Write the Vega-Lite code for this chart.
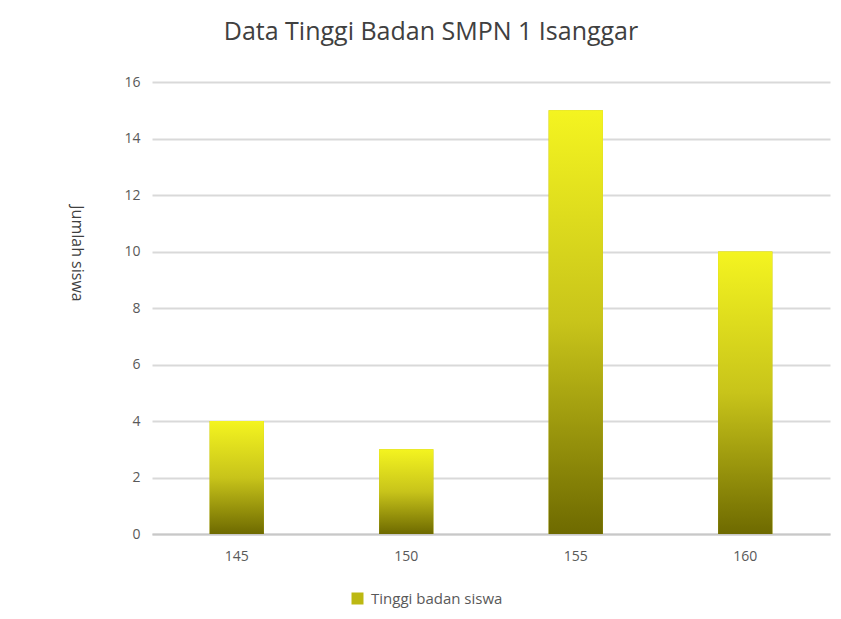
{
  "$schema": "https://vega.github.io/schema/vega-lite/v6.json",
  "autosize": "none",
  "width": 678,
  "height": 452,
  "padding": {"left": 152, "top": 82, "right": 11, "bottom": 85},
  "background": "white",
  "title": {
    "text": "Data Tinggi Badan SMPN 1 Isanggar",
    "font": "Open Sans",
    "fontSize": 25,
    "fontWeight": "normal",
    "color": "#404040",
    "anchor": "middle",
    "dx": -60,
    "offset": 30
  },
  "data": {
    "values": [
      {"tinggi": "145", "jumlah": 4, "seri": "Tinggi badan siswa"},
      {"tinggi": "150", "jumlah": 3, "seri": "Tinggi badan siswa"},
      {"tinggi": "155", "jumlah": 15, "seri": "Tinggi badan siswa"},
      {"tinggi": "160", "jumlah": 10, "seri": "Tinggi badan siswa"}
    ]
  },
  "encoding": {
    "x": {
      "field": "tinggi",
      "type": "nominal",
      "scale": {"paddingInner": 0.68, "paddingOuter": 0.34},
      "axis": {
        "title": null,
        "labelAngle": 0,
        "labelFont": "Open Sans",
        "labelFontSize": 14,
        "labelColor": "#595959",
        "labelPadding": 15,
        "ticks": false,
        "domainColor": "#c8c8c8",
        "domainWidth": 2
      }
    },
    "y": {
      "field": "jumlah",
      "type": "quantitative",
      "scale": {"domain": [0, 16]},
      "axis": {
        "title": "Jumlah siswa",
        "titleAngle": 90,
        "titleFont": "Open Sans",
        "titleFontSize": 16,
        "titleFontWeight": "normal",
        "titleColor": "#404040",
        "titleX": -84,
        "titleY": 171,
        "values": [0, 2, 4, 6, 8, 10, 12, 14, 16],
        "labelFont": "Open Sans",
        "labelFontSize": 14,
        "labelColor": "#595959",
        "labelPadding": 12,
        "ticks": false,
        "domain": false,
        "grid": true,
        "gridColor": "#d9d9d9",
        "gridWidth": 2
      }
    }
  },
  "layer": [
    {
      "mark": {"type": "bar"},
      "encoding": {
        "color": {
          "field": "seri",
          "type": "nominal",
          "scale": {"range": ["#bcb812"]},
          "legend": {
            "title": null,
            "orient": "none",
            "legendX": 198,
            "legendY": 509,
            "symbolType": "square",
            "symbolSize": 144,
            "symbolStrokeWidth": 0,
            "labelFont": "Open Sans",
            "labelFontSize": 15,
            "labelColor": "#595959",
            "labelOffset": 6
          }
        }
      }
    },
    {
      "mark": {
        "type": "bar",
        "fill": {
          "gradient": "linear",
          "x1": 0, "y1": 0, "x2": 0, "y2": 1,
          "stops": [
            {"offset": 0, "color": "#f4f420"},
            {"offset": 0.5, "color": "#c8c41a"},
            {"offset": 1, "color": "#6e6a00"}
          ]
        }
      }
    }
  ],
  "config": {"view": {"stroke": null}}
}
